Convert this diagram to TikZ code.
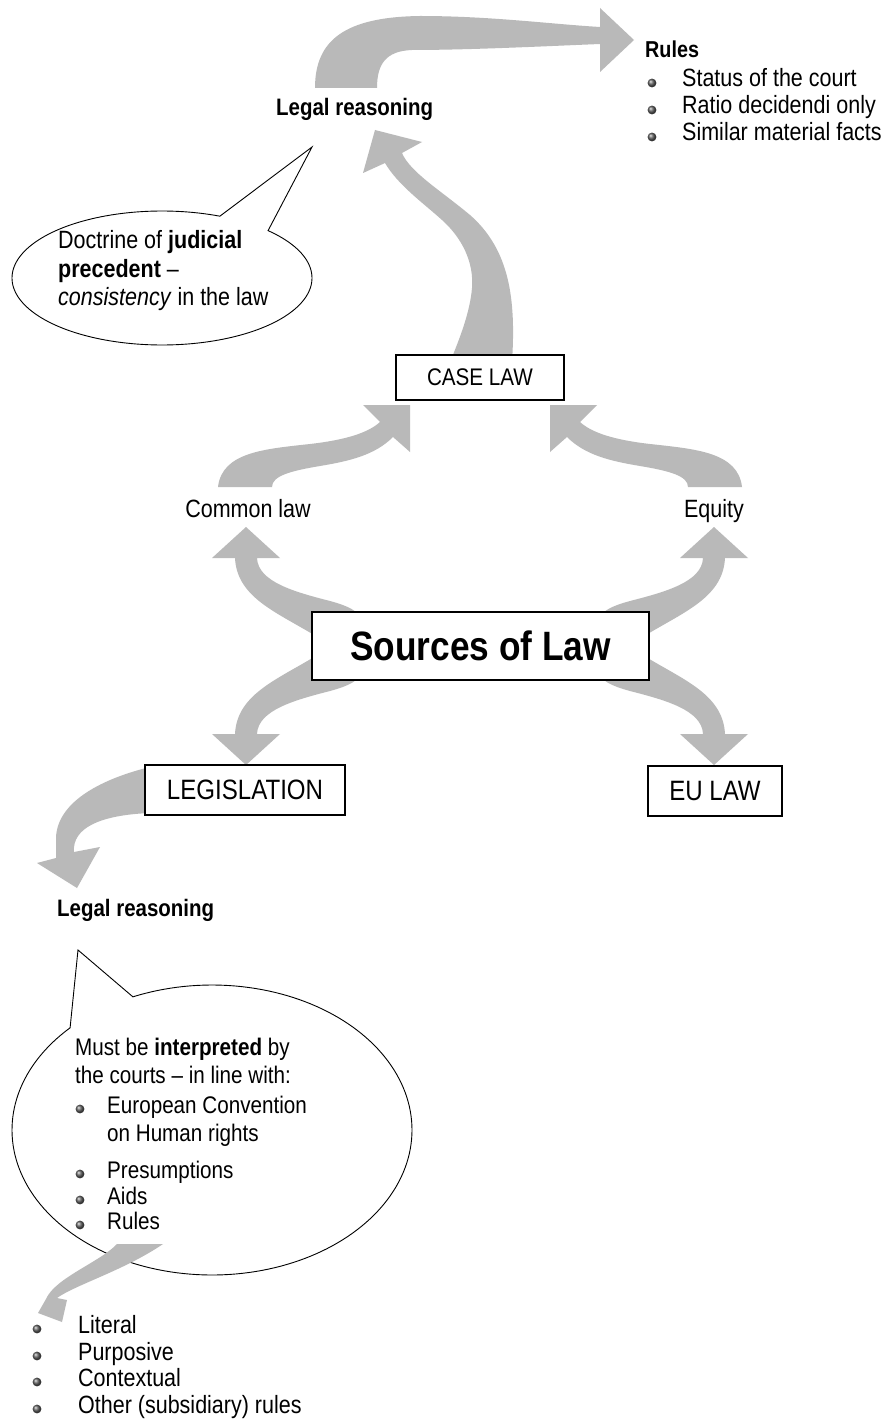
\documentclass[tikz,border=0pt]{standalone}
\usepackage{fontspec}
\setmainfont{Liberation Sans}[FakeStretch=0.86]
\definecolor{arrowgray}{RGB}{185,185,185}
\newcommand\myfs[1]{\fontsize{#1}{#1}\selectfont}
\tikzset{
  garrow/.style={fill=arrowgray, draw=none},
  boxnode/.style={draw=black, line width=1.2pt, fill=white, inner sep=0pt, align=center},
  txt/.style={inner sep=0pt, anchor=base west, font={\myfs{25}}},
  btxt/.style={inner sep=0pt, anchor=base west, font={\myfs{23}\bfseries}},
  bubble/.style={draw=black, line width=0.9pt, fill=white},
  bul/.style={ball color=gray!75!black},
}
\begin{document}
\begin{tikzpicture}[x=1pt, y=-1pt]
\useasboundingbox (0,0) rectangle (887,1423);
\fill[white] (0,0) rectangle (887,1423);

% ---------- arrows ----------
% top: legal reasoning -> rules
\fill[garrow] (315,88) .. controls (315,40) and (345,17) .. (420,16)
  .. controls (490,16) and (550,24) .. (600,27) -- (600,8) -- (634,40) -- (600,72) -- (600,44)
  .. controls (550,46) and (470,50) .. (412,50) .. controls (385,51) and (377,65) .. (377,88) -- cycle;

% case law -> legal reasoning
\fill[garrow] (512,362) .. controls (516,300) and (510,250) .. (470,215)
  .. controls (440,190) and (410,172) .. (402,153) -- (422,142) -- (375,130) -- (363,173) -- (385,163)
  .. controls (398,185) and (422,202) .. (442,220) .. controls (462,238) and (474,262) .. (472,288)
  .. controls (470,312) and (460,338) .. (450,362) -- cycle;

% common law -> case law, equity -> case law
\def\carrowL{(218,487) .. controls (222,452) and (265,449) .. (310,444)
  .. controls (345,440) and (368,433) .. (380,422) -- (363,405) -- (410,405) -- (410,452) -- (393,437)
  .. controls (375,455) and (350,461) .. (320,466) .. controls (290,471) and (272,476) .. (272,487) -- cycle}
\fill[garrow] \carrowL;
\begin{scope}[shift={(960,0)}, xscale=-1]
  \fill[garrow] \carrowL;
\end{scope}

% sources -> four branches
\def\sarrowUL{(322,640) .. controls (282,614) and (237,600) .. (235,558) -- (212,558) -- (246,527)
  -- (280,558) -- (257,558) .. controls (258,582) and (295,592) .. (330,601)
  .. controls (348,606) and (358,610) .. (368,625) -- cycle}
\fill[garrow] \sarrowUL;
\begin{scope}[shift={(960,0)}, xscale=-1]
  \fill[garrow] \sarrowUL;
\end{scope}
\begin{scope}[shift={(0,1292)}, yscale=-1]
  \fill[garrow] \sarrowUL;
\end{scope}
\begin{scope}[shift={(960,1292)}, xscale=-1, yscale=-1]
  \fill[garrow] \sarrowUL;
\end{scope}

% legislation -> legal reasoning
\fill[garrow] (150,767) .. controls (105,778) and (58,800) .. (56,837) -- (56,858) -- (37,863)
  -- (77,888) -- (100,847) -- (74,852) .. controls (72,828) and (100,815) .. (150,813) -- cycle;

% ---------- boxes ----------
\node[boxnode, minimum width=168pt, minimum height=45pt, font={\myfs{24}}] (caselaw) at (480,377.5) {CASE LAW};
\node[boxnode, line width=2pt, minimum width=337pt, minimum height=68pt, font={\myfs{41}\bfseries}] (sources) at (480.5,646) {Sources of Law};
\node[boxnode, minimum width=200pt, minimum height=50pt, font={\myfs{28}}] (legis) at (245,790) {LEGISLATION};
\node[boxnode, minimum width=134pt, minimum height=50pt, font={\myfs{28}}] (eulaw) at (715,791) {EU LAW};

% ---------- plain labels ----------
\node[inner sep=0pt, anchor=base, font={\myfs{25}}] (common) at (248,517) {Common law};
\node[inner sep=0pt, anchor=base, font={\myfs{25}}] (equity) at (714,517) {Equity};
\node[btxt, font={\myfs{23.8}\bfseries}] (legal1) at (276,116) {Legal reasoning};
\node[btxt, font={\myfs{23.8}\bfseries}] (legal2) at (57,916) {Legal reasoning};

% rules list
\node[btxt] (rules) at (645,58) {Rules};
\node[txt] (r1) at (682,87) {Status of the court};
\node[txt] (r2) at (682,114) {Ratio decidendi only};
\node[txt] (r3) at (682,141) {Similar material facts};
\shade[bul] (652,83) circle[radius=4.4pt];
\shade[bul] (652,110) circle[radius=4.4pt];
\shade[bul] (652,137) circle[radius=4.4pt];

% ---------- bubble 1 ----------
\draw[bubble] plot[domain=45:-292.7, samples=160] ({162+150*cos(\x)},{278-67*sin(\x)}) -- (312,147) -- cycle;
\node[txt, font={\myfs{25}}] (d1) at (58,249) {Doctrine of \textbf{judicial}};
\node[txt, font={\myfs{25}}] (d2) at (58,277) {\textbf{precedent} –};
\node[txt, font={\myfs{25}}] (d3) at (58,305) {\textit{consistency} in the law};

% ---------- bubble 2 ----------
\draw[bubble] plot[domain=113.3:-224.8, samples=180] ({212+200*cos(\x)},{1130-145*sin(\x)}) -- (78,950) -- cycle;
\node[txt, font={\myfs{24}}] (m1) at (75,1055) {Must be \textbf{interpreted} by};
\node[txt, font={\myfs{24}}] (m2) at (75,1083) {the courts – in line with:};
\node[txt, font={\myfs{24}}] (m3) at (107,1113) {European Convention};
\node[txt, font={\myfs{24}}] (m4) at (107,1141) {on Human rights};
\node[txt, font={\myfs{24}}] (m5) at (107,1178) {Presumptions};
\node[txt, font={\myfs{24}}] (m6) at (107,1204) {Aids};
\node[txt, font={\myfs{24}}] (m7) at (107,1229) {Rules};
\shade[bul] (80,1109) circle[radius=4.4pt];
\shade[bul] (80,1174) circle[radius=4.4pt];
\shade[bul] (80,1200) circle[radius=4.4pt];
\shade[bul] (80,1225) circle[radius=4.4pt];

% bubble -> literal list arrow
\fill[garrow] (117,1244) .. controls (100,1262) and (55,1278) .. (46,1299) -- (38,1313) -- (62,1322)
  -- (67,1300) -- (57,1298) .. controls (75,1285) and (125,1270) .. (163,1244) -- cycle;

% literal list
\node[txt] (l1) at (78,1333) {Literal};
\node[txt] (l2) at (78,1360) {Purposive};
\node[txt] (l3) at (78,1386) {Contextual};
\node[txt] (l4) at (78,1413) {Other (subsidiary) rules};
\shade[bul] (37,1329) circle[radius=4.4pt];
\shade[bul] (37,1356) circle[radius=4.4pt];
\shade[bul] (37,1382) circle[radius=4.4pt];
\shade[bul] (37,1409) circle[radius=4.4pt];
\end{tikzpicture}
\end{document}
